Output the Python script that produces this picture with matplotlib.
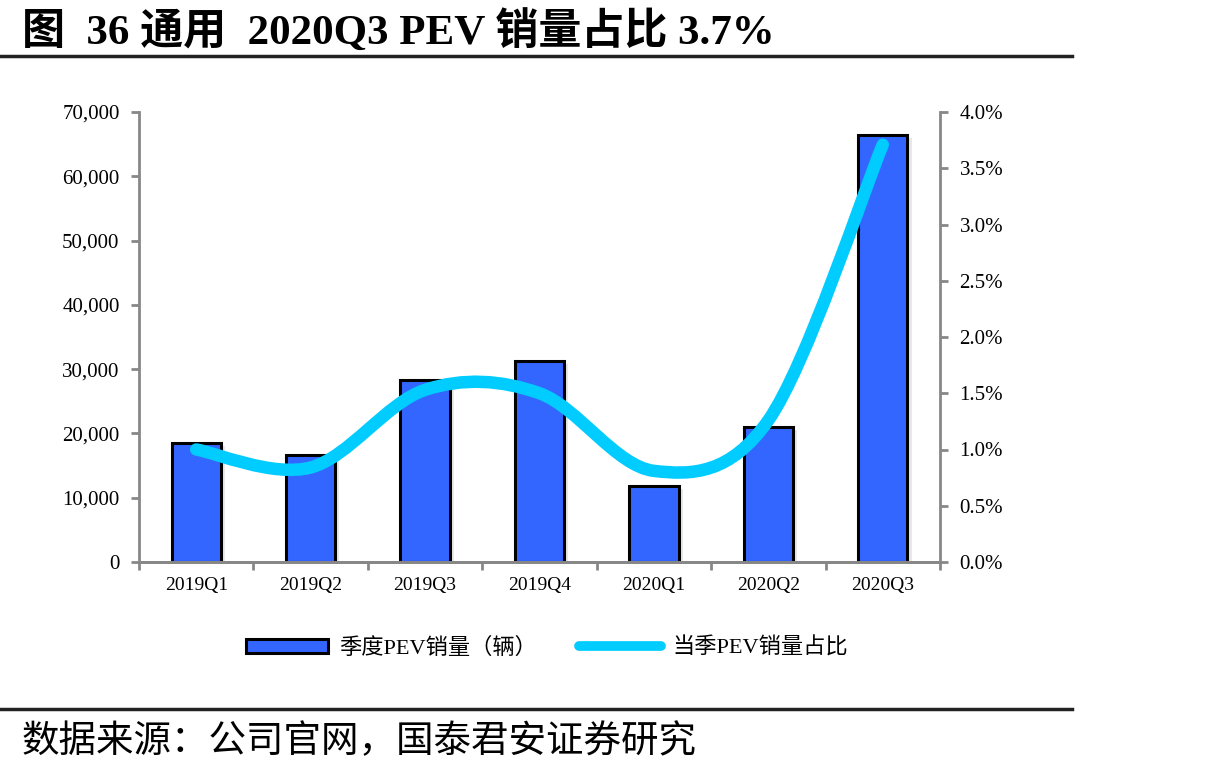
import matplotlib
matplotlib.use("Agg")
import matplotlib.pyplot as plt
import numpy as np
from matplotlib.path import Path
from matplotlib.patches import PathPatch
from matplotlib.lines import Line2D
from matplotlib.patches import Patch
import matplotlib.patheffects as pe
from matplotlib.ticker import FuncFormatter, MultipleLocator

categories = ["2019Q1", "2019Q2", "2019Q3", "2019Q4", "2020Q1", "2020Q2", "2020Q3"]
sales = [18550, 16650, 28300, 31300, 11800, 21000, 66400]
share = [1.00, 0.84, 1.53, 1.50, 0.81, 1.26, 3.71]

title = "图  36 通用  2020Q3 PEV 销量占比 3.7%"
source = "数据来源：公司官网，国泰君安证券研究"
bar_label = "季度PEV销量（辆）"
line_label = "当季PEV销量占比"

SERIF = ["Liberation Serif", "Noto Sans CJK SC"]
CJK = ["Noto Sans CJK SC", "Liberation Serif"]
GRAY = "#878787"
BAR = "#3366FF"
LINE = "#00CCFF"

fig = plt.figure(figsize=(12.17, 7.75), dpi=100)
ax = fig.add_axes([139/1217, 1-562/775, (940-139)/1217, (562-112)/775])
ax2 = ax.twinx()

x = np.arange(len(categories))
bars = ax.bar(x, sales, width=0.43, color=BAR, edgecolor="black", linewidth=2.2, zorder=2)
for b in bars:
    b.set_path_effects([pe.SimplePatchShadow(offset=(3, -2), shadow_rgbFace="gray", alpha=0.18), pe.Normal()])

ax.set_xlim(-0.5, len(categories) - 0.5)
ax.set_ylim(0, 70000)
ax.yaxis.set_major_locator(MultipleLocator(10000))
ax.yaxis.set_major_formatter(FuncFormatter(lambda v, p: f"{int(v):,}"))
ax.set_xticks(x)
ax.set_xticklabels(categories, fontfamily=SERIF, fontsize=14)
ax.set_xticks(np.arange(-0.5, len(categories)), minor=True)
ax.tick_params(axis="x", which="major", length=0, pad=11)
ax.tick_params(axis="x", which="minor", length=6, width=2, color=GRAY, direction="out")
ax.tick_params(axis="y", length=6, width=2, color=GRAY, direction="out", pad=8)
for lab in ax.get_yticklabels():
    lab.set_fontfamily(SERIF)
    lab.set_fontsize(15)

# smoothed line (Catmull-Rom -> Bezier)
px = np.array(x, dtype=float)
py = np.array(share, dtype=float)
verts = [(px[0], py[0])]
codes = [Path.MOVETO]
n = len(px)
for i in range(n - 1):
    p0 = (px[max(i-1, 0)], py[max(i-1, 0)])
    p1 = (px[i], py[i])
    p2 = (px[i+1], py[i+1])
    p3 = (px[min(i+2, n-1)], py[min(i+2, n-1)])
    c1 = (p1[0] + (p2[0]-p0[0])/6, p1[1] + (p2[1]-p0[1])/6)
    c2 = (p2[0] - (p3[0]-p1[0])/6, p2[1] - (p3[1]-p1[1])/6)
    verts += [c1, c2, p2]
    codes += [Path.CURVE4]*3
path = Path(verts, codes)
ax2.add_patch(PathPatch(path, facecolor="none", edgecolor=LINE, linewidth=9, capstyle="round", joinstyle="round", zorder=3))
ax2.set_ylim(0, 4.0)
ax2.yaxis.set_major_locator(MultipleLocator(0.5))
ax2.yaxis.set_major_formatter(FuncFormatter(lambda v, p: f"{v:.1f}%"))
ax2.tick_params(axis="y", length=6, width=2, color=GRAY, direction="out", pad=8)
for lab in ax2.get_yticklabels():
    lab.set_fontfamily(SERIF)
    lab.set_fontsize(15)

for a in (ax, ax2):
    a.spines["top"].set_visible(False)
    for s in ("left", "right", "bottom"):
        a.spines[s].set_color(GRAY)
        a.spines[s].set_linewidth(2)
ax2.spines["left"].set_visible(False)
ax.spines["right"].set_visible(False)
ax.set_zorder(ax2.get_zorder() - 1)
ax2.patch.set_visible(False)

handles = [Patch(facecolor=BAR, edgecolor="black", linewidth=2.2),
           Line2D([0], [0], color=LINE, linewidth=7, solid_capstyle="round")]
fig.legend(handles, [bar_label, line_label], loc="center", bbox_to_anchor=(547/1217, 1-648/775),
           ncol=2, frameon=False, handlelength=3.7, handleheight=0.6, handletextpad=0.5,
           columnspacing=1.9, prop={"family": SERIF, "size": 16})

fig.text(22/1217, 1-31/775, title, fontfamily=SERIF, fontweight="bold", fontsize=31, va="center", ha="left")
fig.add_artist(Line2D([0, 1072/1217], [1-56/775, 1-56/775], color="#222222", linewidth=2.5))
fig.add_artist(Line2D([0, 1072/1217], [1-709/775, 1-709/775], color="#222222", linewidth=2.5))
fig.text(22/1217, 1-742/775, source, fontfamily=CJK, fontsize=27, va="center", ha="left")

fig.savefig("out.png", dpi=100)
